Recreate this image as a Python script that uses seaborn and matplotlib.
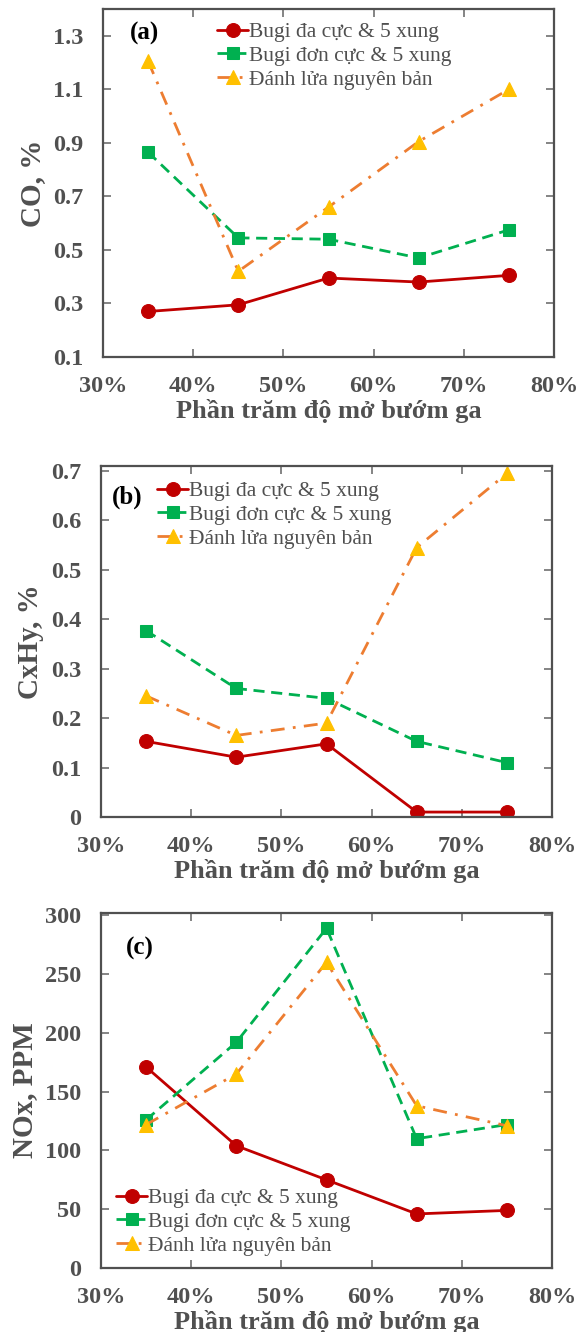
import matplotlib
matplotlib.use("Agg")
import matplotlib.pyplot as plt
import seaborn as sns
import pandas as pd
from matplotlib.ticker import PercentFormatter

sns.set_style("ticks")
plt.rcParams['font.family'] = ['Liberation Serif', 'DejaVu Serif']

throttle = [0.35, 0.45, 0.55, 0.65, 0.75]
series_names = ["Bugi đa cực & 5 xung", "Bugi đơn cực & 5 xung", "Đánh lửa nguyên bản"]

co_multi = [0.27, 0.295, 0.395, 0.38, 0.405]
co_single = [0.865, 0.545, 0.54, 0.47, 0.575]
co_orig = [1.205, 0.42, 0.66, 0.905, 1.10]

hc_multi = [0.153, 0.121, 0.148, 0.01, 0.01]
hc_single = [0.377, 0.26, 0.24, 0.153, 0.11]
hc_orig = [0.245, 0.165, 0.19, 0.545, 0.695]

nox_multi = [171, 104, 75, 46, 49]
nox_single = [126, 192, 289, 110, 122]
nox_orig = [122, 165, 260, 138, 121]

x_ticks = [0.3, 0.4, 0.5, 0.6, 0.7, 0.8]
co_ticks = [0.1, 0.3, 0.5, 0.7, 0.9, 1.1, 1.3]
hc_ticks = [0, 0.1, 0.2, 0.3, 0.4, 0.5, 0.6, 0.7]
nox_ticks = [0, 50, 100, 150, 200, 250, 300]

styles = [
    dict(color="#C00000", marker="o", markersize=10, markerfacecolor="#C00000",
         markeredgecolor="#C00000", linestyle="-"),
    dict(color="#00B050", marker="s", markersize=8, markerfacecolor="#00B050",
         markeredgecolor="#00B050", linestyle=(0, (4, 2.4))),
    dict(color="#ED7D31", marker="^", markersize=10, markerfacecolor="#FFC000",
         markeredgecolor="#FFC000", linestyle=(0, (5, 3, 1, 3))),
]

fig = plt.figure(figsize=(5.88, 13.32), dpi=100)
W, H = 588, 1332


def add_ax(l, r, t, b):
    return fig.add_axes([l / W, 1 - b / H, (r - l) / W, (b - t) / H])


panels = [
    dict(box=(103, 554, 9, 357), vals=[co_multi, co_single, co_orig], ylabel="CO, %",
         ylim=(0.1, 1.4), yticks=co_ticks, yfmt="{:.1f}", tag="(a)", tagxy=(130, 33),
         leg=(217, 22)),
    dict(box=(101, 552, 466, 817), vals=[hc_multi, hc_single, hc_orig], ylabel="CxHy, %",
         ylim=(0, 0.71), yticks=hc_ticks, yfmt="{:g}", tag="(b)", tagxy=(112, 497),
         leg=(157, 481)),
    dict(box=(101, 552, 913, 1268), vals=[nox_multi, nox_single, nox_orig], ylabel="NOx, PPM",
         ylim=(0, 302), yticks=nox_ticks, yfmt="{:g}", tag="(c)", tagxy=(126, 948),
         leg=(116, 1188)),
]

tick_color = "#505050"
for p in panels:
    l, r, t, b = p["box"]
    ax = add_ax(l, r, t, b)
    for name, vals, st in zip(series_names, p["vals"], styles):
        df = pd.DataFrame({"x": throttle, "y": vals})
        sns.lineplot(data=df, x="x", y="y", ax=ax, label=name, linewidth=2.0,
                     color=st["color"], marker=st["marker"], markersize=st["markersize"],
                     markerfacecolor=st["markerfacecolor"], markeredgecolor=st["markeredgecolor"],
                     linestyle=st["linestyle"])
    ax.set_xlim(0.3, 0.8)
    ax.set_ylim(*p["ylim"])
    ax.set_xticks(x_ticks)
    ax.xaxis.set_major_formatter(PercentFormatter(1.0, decimals=0))
    ax.set_yticks(p["yticks"])
    ax.set_yticklabels([p["yfmt"].format(v) for v in p["yticks"]])
    ax.tick_params(direction="in", length=6, width=1.2, color="#707070",
                   top=True, right=True, labelsize=17.5, labelcolor=tick_color, pad=14)
    for lab in ax.get_xticklabels() + ax.get_yticklabels():
        lab.set_fontweight("bold")
    for s in ax.spines.values():
        s.set_color("#505050")
        s.set_linewidth(1.6)
    ax.set_xlabel("Phần trăm độ mở bướm ga", fontsize=19, fontweight="bold",
                  color=tick_color, labelpad=1)
    ax.set_ylabel(p["ylabel"], fontsize=21, fontweight="bold", color=tick_color, labelpad=5)
    tx, ty = p["tagxy"]
    fig.text(tx / W, 1 - ty / H, p["tag"], fontsize=18, fontweight="bold",
             color="black", va="center", ha="left")
    lx, ly = p["leg"]
    leg = ax.legend(loc="upper left", bbox_to_anchor=(lx / W, 1 - ly / H),
                    bbox_transform=fig.transFigure, frameon=False, fontsize=15.5,
                    handlelength=1.45, handletextpad=0.05, labelspacing=0.18,
                    borderpad=0, borderaxespad=0)
    for txt in leg.get_texts():
        txt.set_color(tick_color)

fig.savefig("out.png", dpi=100)
